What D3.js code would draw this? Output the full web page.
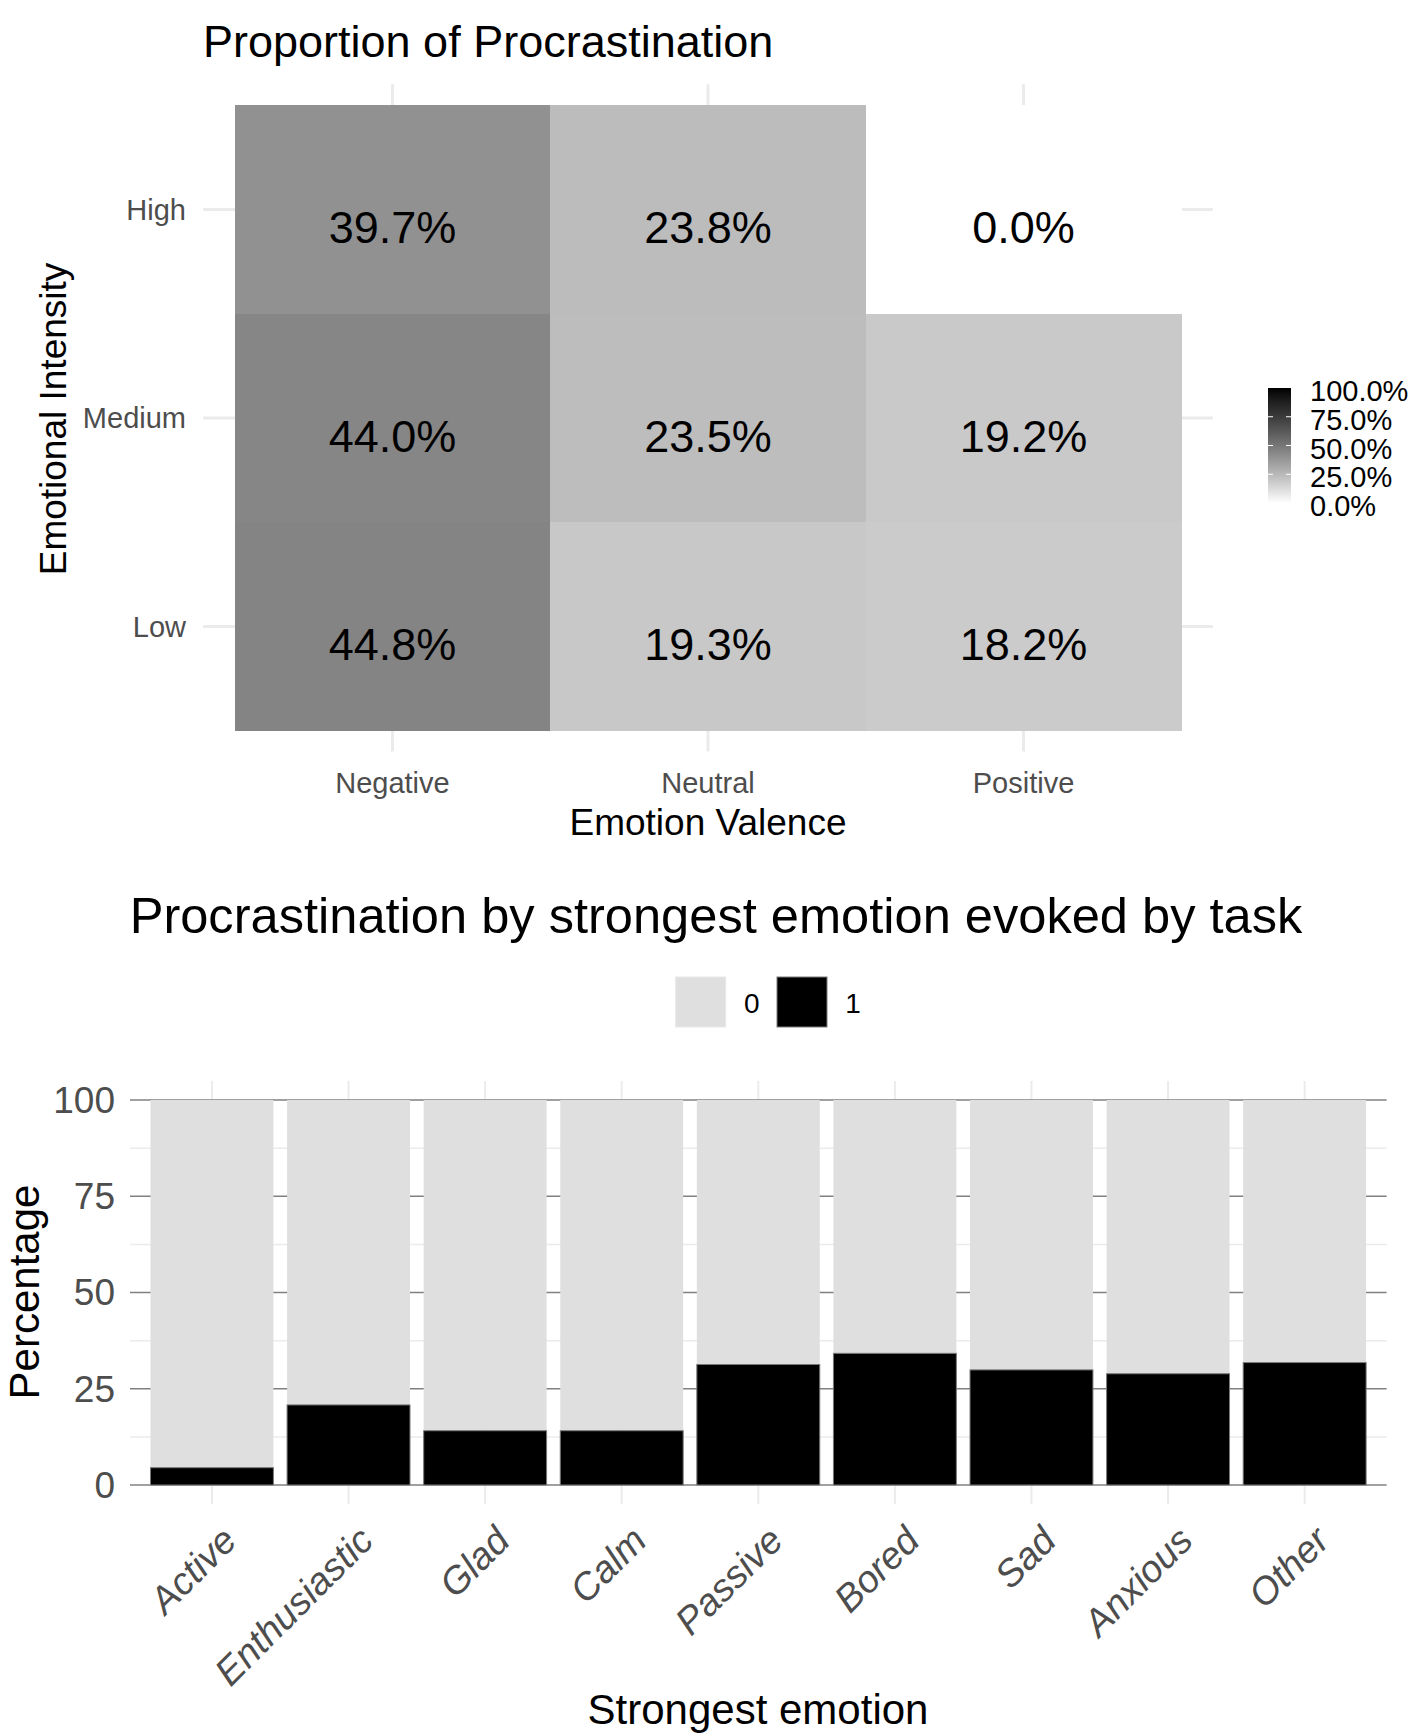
<!DOCTYPE html>
<html>
<head>
<meta charset="utf-8">
<script src="https://cdn.jsdelivr.net/npm/d3@7"></script>
<style>
  body { margin: 0; background: #fff; }
  text { font-family: "Liberation Sans", Arial, sans-serif; }
</style>
</head>
<body>
<div id="chart"></div>
<script>
// heatmap data (percent procrastinated)
const valences = ["Negative", "Neutral", "Positive"];
const intensities = ["High", "Medium", "Low"];
const negativeRates = [39.7, 44.0, 44.8];
const neutralRates = [23.8, 23.5, 19.3];
const positiveRates = [0.0, 19.2, 18.2];
const legendTicks = [0, 25, 50, 75, 100];

// bar chart data
const emotions = ["Active", "Enthusiastic", "Glad", "Calm", "Passive", "Bored", "Sad", "Anxious", "Other"];
const procrastPct = [4.5, 20.8, 14.1, 14.1, 31.3, 34.2, 29.9, 28.9, 31.8];
const procrastLevels = ["0", "1"];
const barTicks = [0, 25, 50, 75, 100];

const W = 1427, H = 1736;
const svg = d3.select("#chart").append("svg")
  .attr("width", W)
  .attr("height", H);

// ---------- top: heatmap ----------
const cells = [];
[negativeRates, neutralRates, positiveRates].forEach((rates, i) => {
  rates.forEach((v, j) => cells.push({ valence: valences[i], intensity: intensities[j], value: v }));
});

const hx = d3.scaleBand().domain(valences).range([234.7, 1181.3]);
const hy = d3.scaleBand().domain(intensities).range([105.2, 730.7]);
const fill = d3.scaleSequential(d3.interpolateLab("#ffffff", "#000000")).domain([0, 100]);

const heat = svg.append("g");

// grid
heat.selectAll(".hgrid")
  .data(intensities)
  .enter().append("line")
  .attr("x1", 203.2).attr("x2", 1212.8)
  .attr("y1", d => hy(d) + hy.bandwidth() / 2)
  .attr("y2", d => hy(d) + hy.bandwidth() / 2)
  .attr("stroke", "#ebebeb").attr("stroke-width", 3);
heat.selectAll(".vgrid")
  .data(valences)
  .enter().append("line")
  .attr("y1", 84.3).attr("y2", 751.5)
  .attr("x1", d => hx(d) + hx.bandwidth() / 2)
  .attr("x2", d => hx(d) + hx.bandwidth() / 2)
  .attr("stroke", "#ebebeb").attr("stroke-width", 3);

heat.selectAll("rect")
  .data(cells)
  .enter().append("rect")
  .attr("x", d => hx(d.valence))
  .attr("y", d => hy(d.intensity))
  .attr("width", hx.bandwidth() + 0.5)
  .attr("height", hy.bandwidth() + 0.5)
  .attr("shape-rendering", "crispEdges")
  .attr("fill", d => fill(d.value));

heat.selectAll(".cell-label")
  .data(cells)
  .enter().append("text")
  .attr("x", d => hx(d.valence) + hx.bandwidth() / 2)
  .attr("y", d => hy(d.intensity) + hy.bandwidth() / 2 + 18)
  .attr("dy", "0.35em")
  .attr("text-anchor", "middle")
  .attr("font-size", 45)
  .attr("fill", "#000")
  .text(d => d.value.toFixed(1) + "%");

// axes labels
heat.selectAll(".ytick")
  .data(intensities)
  .enter().append("text")
  .attr("x", 186)
  .attr("y", d => hy(d) + hy.bandwidth() / 2)
  .attr("dy", "0.35em")
  .attr("text-anchor", "end")
  .attr("font-size", 29)
  .attr("fill", "#4d4d4d")
  .text(d => d);
heat.selectAll(".xtick")
  .data(valences)
  .enter().append("text")
  .attr("x", d => hx(d) + hx.bandwidth() / 2)
  .attr("y", 793)
  .attr("text-anchor", "middle")
  .attr("font-size", 29)
  .attr("fill", "#4d4d4d")
  .text(d => d);

heat.append("text")
  .attr("x", 708).attr("y", 835)
  .attr("text-anchor", "middle")
  .attr("font-size", 37)
  .text("Emotion Valence");
heat.append("text")
  .attr("transform", "translate(66,419) rotate(-90)")
  .attr("text-anchor", "middle")
  .attr("font-size", 37)
  .text("Emotional Intensity");
heat.append("text")
  .attr("x", 203).attr("y", 57)
  .attr("font-size", 45)
  .text("Proportion of Procrastination");

// colour bar legend
const ly = d3.scaleLinear().domain([0, 100]).range([503, 388]);
const grad = svg.append("defs").append("linearGradient")
  .attr("id", "grad").attr("x1", 0).attr("y1", 1).attr("x2", 0).attr("y2", 0);
d3.range(0, 101, 10).forEach(v => {
  grad.append("stop").attr("offset", v + "%").attr("stop-color", fill(v));
});
heat.append("rect")
  .attr("x", 1268).attr("y", ly(100))
  .attr("width", 23).attr("height", ly(0) - ly(100))
  .attr("fill", "url(#grad)");
heat.selectAll(".ltick")
  .data(legendTicks.slice(1, 4))
  .enter().append("g")
  .each(function (d) {
    const g = d3.select(this);
    g.append("line").attr("x1", 1268).attr("x2", 1273).attr("y1", ly(d)).attr("y2", ly(d))
      .attr("stroke", "#fff").attr("stroke-width", 1);
    g.append("line").attr("x1", 1286).attr("x2", 1291).attr("y1", ly(d)).attr("y2", ly(d))
      .attr("stroke", "#fff").attr("stroke-width", 1);
  });
heat.selectAll(".llabel")
  .data(legendTicks)
  .enter().append("text")
  .attr("x", 1310)
  .attr("y", d => ly(d) + 3)
  .attr("dy", "0.35em")
  .attr("font-size", 29)
  .text(d => d.toFixed(1) + "%");

// ---------- bottom: stacked bars ----------
const bars = emotions.map((e, i) => ({ emotion: e, one: procrastPct[i], zero: 100 - procrastPct[i] }));

const bx = d3.scaleBand().domain(emotions).range([130, 1386.6]).paddingInner(0.1).paddingOuter(0.15);
const by = d3.scaleLinear().domain([0, 100]).range([1485, 1100]);
const barColor = { "0": "#dfdfdf", "1": "#000000" };

const bot = svg.append("g");

// minor grid
bot.selectAll(".minor")
  .data([12.5, 37.5, 62.5, 87.5])
  .enter().append("line")
  .attr("x1", 130).attr("x2", 1386.6)
  .attr("y1", d => by(d)).attr("y2", d => by(d))
  .attr("stroke", "#ebebeb").attr("stroke-width", 1.5);
bot.selectAll(".vgrid")
  .data(emotions)
  .enter().append("line")
  .attr("x1", d => bx(d) + bx.bandwidth() / 2)
  .attr("x2", d => bx(d) + bx.bandwidth() / 2)
  .attr("y1", 1081).attr("y2", 1504)
  .attr("stroke", "#ebebeb").attr("stroke-width", 2);
// major grid
bot.selectAll(".major")
  .data(barTicks)
  .enter().append("line")
  .attr("x1", 130).attr("x2", 1386.6)
  .attr("y1", d => by(d)).attr("y2", d => by(d))
  .attr("stroke", "#808080").attr("stroke-width", 1.6);

bot.selectAll(".bar0")
  .data(bars)
  .enter().append("rect")
  .attr("x", d => bx(d.emotion))
  .attr("width", bx.bandwidth())
  .attr("y", by(100))
  .attr("height", d => by(d.one) - by(100))
  .attr("fill", barColor["0"]);
bot.selectAll(".bar1")
  .data(bars)
  .enter().append("rect")
  .attr("x", d => bx(d.emotion))
  .attr("width", bx.bandwidth())
  .attr("y", d => by(d.one))
  .attr("height", d => by(0) - by(d.one))
  .attr("fill", barColor["1"])
  .attr("stroke", "#7a7a7a").attr("stroke-width", 1);

bot.selectAll(".ytick")
  .data(barTicks)
  .enter().append("text")
  .attr("x", 115)
  .attr("y", d => by(d))
  .attr("dy", "0.35em")
  .attr("text-anchor", "end")
  .attr("font-size", 37)
  .attr("fill", "#4d4d4d")
  .text(d => d);

bot.selectAll(".xtick")
  .data(emotions)
  .enter().append("text")
  .attr("transform", d => `translate(${bx(d) + bx.bandwidth() / 2 + 8},1524) rotate(-45)`)
  .attr("dy", "0.7em")
  .attr("text-anchor", "end")
  .attr("font-size", 38)
  .attr("font-style", "italic")
  .attr("fill", "#4d4d4d")
  .text(d => d);

bot.append("text")
  .attr("x", 758).attr("y", 1724)
  .attr("text-anchor", "middle")
  .attr("font-size", 42)
  .text("Strongest emotion");
bot.append("text")
  .attr("transform", "translate(39,1292) rotate(-90)")
  .attr("text-anchor", "middle")
  .attr("font-size", 42)
  .text("Percentage");
bot.append("text")
  .attr("x", 716).attr("y", 933)
  .attr("text-anchor", "middle")
  .attr("font-size", 50.6)
  .text("Procrastination by strongest emotion evoked by task");

// legend
const legX = [675.7, 777];
const leg = bot.selectAll(".leg")
  .data(procrastLevels)
  .enter().append("g");
leg.append("rect")
  .attr("x", (d, i) => legX[i]).attr("y", 977)
  .attr("width", 50).attr("height", 50)
  .attr("fill", d => barColor[d])
  .attr("stroke", d => d === "1" ? "#7a7a7a" : "#e8e8e8").attr("stroke-width", 1);
leg.append("text")
  .attr("x", (d, i) => legX[i] + 76)
  .attr("y", 1003)
  .attr("dy", "0.35em")
  .attr("text-anchor", "middle")
  .attr("font-size", 28)
  .text(d => d);
</script>
</body>
</html>
